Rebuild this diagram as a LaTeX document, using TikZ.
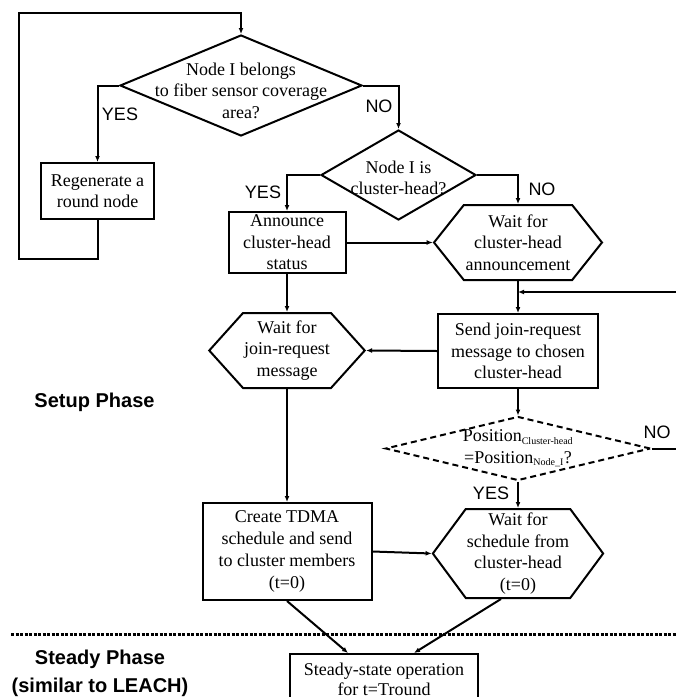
\documentclass[tikz,border=0pt]{standalone}
\usepackage{fontspec}
\setmainfont{Liberation Serif}
\setsansfont{Liberation Sans}
\usetikzlibrary{arrows.meta,positioning,shapes.geometric,shapes.symbols}

\begin{document}
\begin{tikzpicture}[
  x=1pt, y=-1pt,
  line width=2pt,
  txt/.style={font=\fontsize{18}{21.5}\selectfont, align=center},
  box/.style={draw, txt, inner sep=0pt},
  hexa/.style={draw, txt, shape=signal, signal to=east and west, inner sep=1pt, signal pointer angle=100},
  dec/.style={draw, shape=diamond, inner sep=0pt},
  lab/.style={font=\sffamily\fontsize{18}{18}\selectfont},
  phase/.style={font=\sffamily\bfseries\fontsize{20}{28}\selectfont, align=center},
  arr/.style={-{Latex[length=6pt,width=5pt]}},
  phaseline/.style={line width=3pt, dash pattern=on 3pt off 1.5pt}
]
\useasboundingbox (0,0) rectangle (676,697);

% setup phase
\node[dec, minimum width=242pt, minimum height=101pt,
  label={[txt, yshift=-5pt]center:Node I belongs\\to fiber sensor coverage\\area?}] (fiber) at (241,85.5) {};
\node[box, minimum width=113pt, minimum height=56pt] (regen) at (97.5,191) {Regenerate a\\round node};
\node[dec, minimum width=155pt, minimum height=90pt,
  label={[txt, yshift=-3pt]center:Node I is\\cluster-head?}] (chead) at (398.5,175) {};
\node[box, minimum width=117pt, minimum height=61pt] (announce) at (287,242.5) {Announce\\cluster-head\\status};
\node[hexa, minimum width=168pt, minimum height=75pt, signal pointer angle=103] (waitann) at (518,242.5) {Wait for\\cluster-head\\announcement};
\node[hexa, minimum width=139pt, minimum height=75pt, signal pointer angle=96] (waitjoin) at (287,350.5) {Wait for\\join-request\\message};
\node[box, minimum width=160pt, minimum height=74pt] (sendjoin) at (518,351) {Send join-request\\message to chosen\\cluster-head};
\node[dec, dashed, dash pattern=on 6pt off 4pt, minimum width=265pt, minimum height=64pt,
  label={[txt]center:Position\textsubscript{\fontsize{10}{10}\selectfont Cluster-head}\\=Position\textsubscript{\fontsize{10}{10}\selectfont Node\_I}?}] (samepos) at (518,448.5) {};
\node[hexa, minimum width=168pt, minimum height=89pt, signal pointer angle=107] (waitsched) at (518,553.5) {Wait for\\schedule from\\cluster-head\\(t=0)};
\node[box, minimum width=169pt, minimum height=97pt, font=\fontsize{18}{22}\selectfont] (tdma) at (287,551.5) {Create TDMA\\schedule and send\\to cluster members\\(t=0)};

% steady phase
\node[box, minimum width=188pt, minimum height=50pt, font=\fontsize{18}{20}\selectfont] (steady) at (384,679) {Steady-state operation\\for t=Tround};

\node[lab] (yes1) at (120,114) {YES};
\node[lab] (no1) at (379,106) {NO};
\node[lab] (yes2) at (263,192) {YES};
\node[lab] (no2) at (542,189) {NO};
\node[lab] (no3) at (657,432) {NO};
\node[lab] (yes3) at (491,493) {YES};
\node[phase] (setup) at (94.5,402) {Setup Phase};
\node[phase] (steadyph) at (100,673) {Steady Phase\\(similar to LEACH)};

\coordinate (loopbot) at (18.5,259);
\coordinate (looptop) at (18.5,13);
\coordinate (farright) at (690,448.5);
\coordinate (joint) at (518,292);
\coordinate (dotl) at (11,634);
\coordinate (dotr) at (676,634);

\draw[arr] (regen.south) |- (loopbot) -- (looptop) -| (fiber.north);
\draw[arr] (fiber.west) -| (regen.north);
\draw[arr] (fiber.east) -| (chead.north);
\draw[arr] (chead.west) -| (announce.north);
\draw[arr] (chead.east) -| (waitann.north);
\draw[arr] (announce.east) -- (waitann.west);
\draw[arr] (announce.south) -- (waitjoin.north);
\draw[arr] (waitann.south) -- (sendjoin.north);
\draw[arr] (sendjoin.west) -- (waitjoin.east);
\draw[arr] (sendjoin.south) -- (samepos.north);
\draw[arr] (samepos.east) -- (farright) |- (joint);
\draw[arr] (samepos.south) -- (waitsched.north);
\draw[arr] (waitjoin.south) -- (tdma.north);
\draw[arr] (tdma.east) -- (waitsched.west);
\draw[phaseline] (dotl) -- (dotr);
\draw[arr] (tdma.south) -- ([xshift=-36pt]steady.north);
\draw[arr] ([xshift=-17pt]waitsched.south) -- ([xshift=30pt]steady.north);
\end{tikzpicture}
\end{document}
